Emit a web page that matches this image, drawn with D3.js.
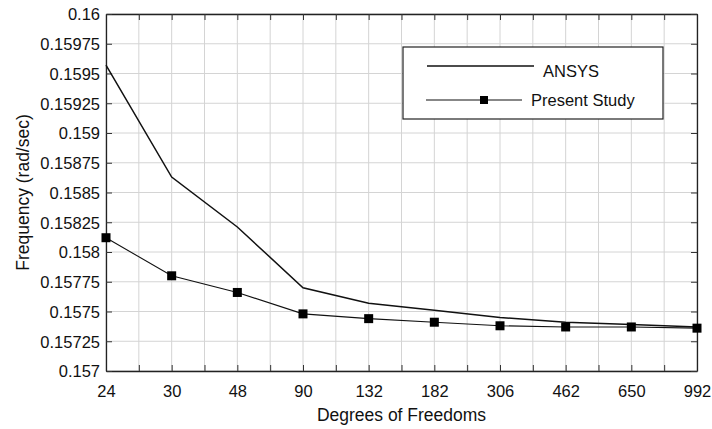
<!DOCTYPE html>
<html><head><meta charset="utf-8">
<script src="https://cdn.jsdelivr.net/npm/d3@7"></script>
<style>body{margin:0;background:#fff}svg{display:block}text{font-family:"Liberation Sans",Arial,sans-serif;fill:#111}</style>
</head><body><svg id="c" width="712" height="429"></svg>
<script>
const categories = ["24","30","48","90","132","182","306","462","650","992"];
const ansys = [0.15957,0.15863,0.15821,0.15770,0.15757,0.15751,0.15745,0.15741,0.15739,0.15737];
const present = [0.15812,0.15780,0.15766,0.15748,0.15744,0.15741,0.15738,0.15737,0.15737,0.15736];
const yTicks = [0.157,0.15725,0.1575,0.15775,0.158,0.15825,0.1585,0.15875,0.159,0.15925,0.1595,0.15975,0.16];
const yTickLabels = ["0.157","0.15725","0.1575","0.15775","0.158","0.15825","0.1585","0.15875","0.159","0.15925","0.1595","0.15975","0.16"];
const seriesNames = ["ANSYS","Present Study"];
const xTitle = "Degrees of Freedoms", yTitle = "Frequency (rad/sec)";

const svg = d3.select("#c");
const L=106,R=697,T=14,B=371;
const x = d3.scaleLinear().domain([0,categories.length-1]).range([L,R]);
const y = d3.scaleLinear().domain([0.157,0.16]).range([B,T]);
const halfTicks = d3.range(0,categories.length-0.5,0.5);

// grid
const g = svg.append("g");
g.selectAll(".vg").data(halfTicks).join("line")
 .attr("x1",d=>x(d)).attr("x2",d=>x(d)).attr("y1",T).attr("y2",B)
 .attr("stroke","#d4d4d4").attr("stroke-width",1);
g.selectAll(".hg").data(yTicks).join("line")
 .attr("y1",d=>y(d)).attr("y2",d=>y(d)).attr("x1",L).attr("x2",R)
 .attr("stroke","#d4d4d4").attr("stroke-width",1);

// axes
const axB = svg.append("g").attr("transform",`translate(0,${B})`)
 .call(d3.axisBottom(x).tickValues(halfTicks).tickSizeInner(-6).tickSizeOuter(0).tickPadding(14)
   .tickFormat(d=>Number.isInteger(d)?categories[d]:""));
const axT = svg.append("g").attr("transform",`translate(0,${T})`)
 .call(d3.axisTop(x).tickValues(halfTicks).tickSizeInner(-6).tickSizeOuter(0).tickFormat(""));
const axL = svg.append("g").attr("transform",`translate(${L},0)`)
 .call(d3.axisLeft(y).tickValues(yTicks).tickSizeInner(-6).tickSizeOuter(0).tickPadding(6)
   .tickFormat((d,i)=>yTickLabels[i]));
const axR = svg.append("g").attr("transform",`translate(${R},0)`)
 .call(d3.axisRight(y).tickValues(yTicks).tickSizeInner(-6).tickSizeOuter(0).tickFormat(""));
[axB,axT,axL,axR].forEach(a=>{
  a.selectAll(".domain").attr("stroke","#222").attr("stroke-width",1.3);
  a.selectAll(".tick line").attr("stroke","#333").attr("stroke-width",1);
  a.selectAll("text").attr("font-size",16.5).attr("fill","#111").attr("font-family","'Liberation Sans',Arial,sans-serif");
});
axL.selectAll("text").attr("dy","0.36em");

// lines
const line = (arr)=>d3.line().x((d,i)=>x(i)).y(d=>y(d))(arr);
svg.append("path").attr("d",line(ansys)).attr("fill","none").attr("stroke","#111").attr("stroke-width",1.5);
svg.append("path").attr("d",line(present)).attr("fill","none").attr("stroke","#111").attr("stroke-width",1.1);
const ms=9;
svg.selectAll(".m").data(present).join("rect")
 .attr("x",(d,i)=>x(i)-ms/2).attr("y",d=>y(d)-ms/2).attr("width",ms).attr("height",ms).attr("fill","#000");

// titles
svg.append("text").attr("x",(L+R)/2).attr("y",421).attr("text-anchor","middle").attr("font-size",17.5).text(xTitle);
svg.append("text").attr("transform",`translate(29,${(T+B)/2+0}) rotate(-90)`).attr("text-anchor","middle").attr("font-size",17.5).text(yTitle);

// legend
const lg = svg.append("g");
lg.append("rect").attr("x",403).attr("y",47).attr("width",260).attr("height",72).attr("fill","#fff").attr("stroke","#222").attr("stroke-width",1.2);
lg.append("line").attr("x1",427).attr("x2",534).attr("y1",66).attr("y2",66).attr("stroke","#111").attr("stroke-width",1.5);
lg.append("text").attr("x",543).attr("y",76.5).attr("font-size",16.5).text(seriesNames[0]);
lg.append("line").attr("x1",426).attr("x2",522).attr("y1",100).attr("y2",100).attr("stroke","#111").attr("stroke-width",1.1);
lg.append("rect").attr("x",484-4).attr("y",100-4).attr("width",8).attr("height",8).attr("fill","#000");
lg.append("text").attr("x",531).attr("y",106).attr("font-size",16.5).text(seriesNames[1]);
</script></body></html>
